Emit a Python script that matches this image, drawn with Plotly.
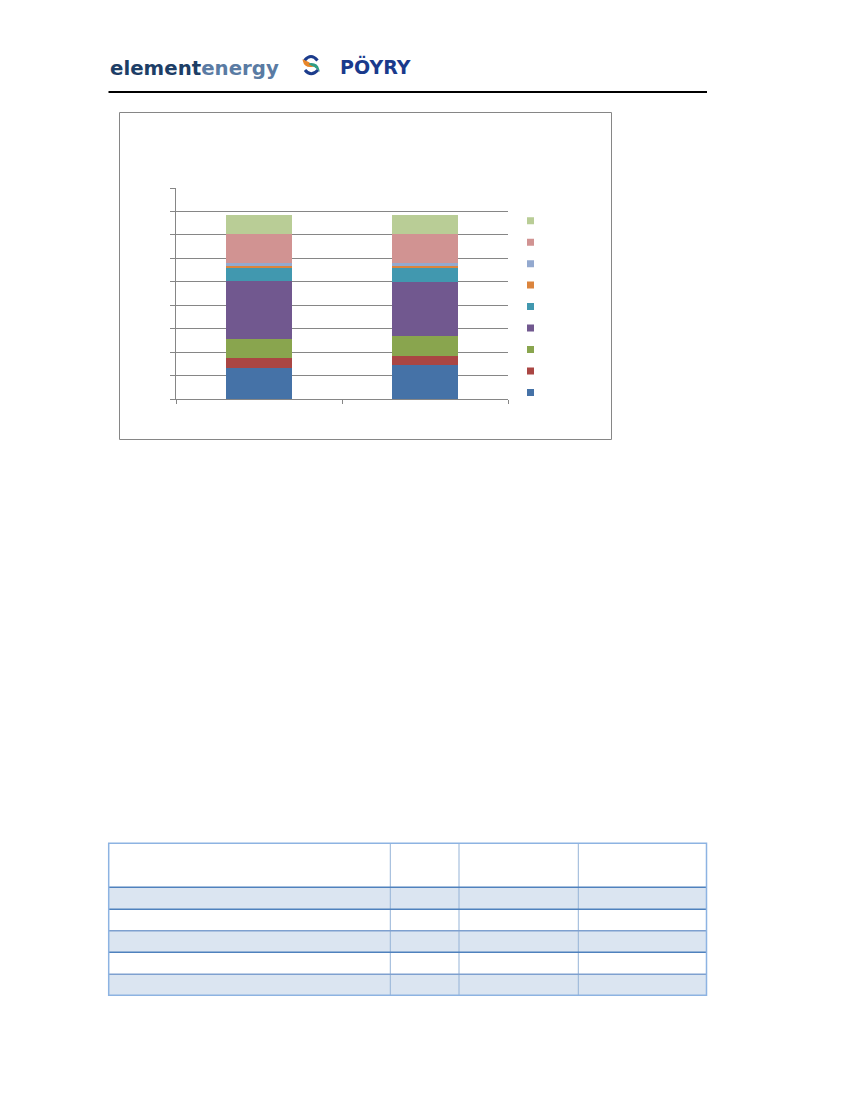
import plotly.graph_objects as go

# ---------------- data ----------------
categories = ["Case 1", "Case 2"]
series_names = ["", "", "", "", "", "", "", "", ""]
series_colors = ["#4572A7", "#AA4643", "#89A54E", "#71588F", "#4198AF",
                 "#DB843D", "#93A9CF", "#D19392", "#B9CD96"]
s1 = [1.31, 1.45]
s2 = [0.44, 0.39]
s3 = [0.81, 0.84]
s4 = [2.49, 2.30]
s5 = [0.56, 0.63]
s6 = [0.08, 0.07]
s7 = [0.12, 0.11]
s8 = [1.23, 1.23]
s9 = [0.79, 0.81]
series_values = [s1, s2, s3, s4, s5, s6, s7, s8, s9]
y_ticks = [0, 1, 2, 3, 4, 5, 6, 7, 8, 9]

# ---------------- layout geometry (page pixels; page body has 8px margin) ----
OFF = 8
W, H = 850 - OFF, 1100 - OFF
ML, MT = 176 - OFF, 188 - OFF
PW, PH = 332, 211
MR = W - ML - PW
MB = H - MT - PH


def px(x):
    return (x - OFF - ML) / PW


def py(y):
    return (MT + PH - (y - OFF)) / PH


fig = go.Figure()

for name, vals, col in zip(series_names, series_values, series_colors):
    fig.add_trace(go.Bar(x=categories, y=vals, name=name,
                         marker=dict(color=col, line=dict(width=0)),
                         showlegend=False))
    # legend swatch
    fig.add_trace(go.Scatter(x=[None], y=[None], mode="markers", name=name,
                             marker=dict(symbol="square", size=7, color=col),
                             showlegend=True))

shapes = []
# header rule
shapes.append(dict(type="line", xref="paper", yref="paper",
                   x0=px(108.5), x1=px(707), y0=py(92), y1=py(92),
                   line=dict(color="#000000", width=2)))
# chart frame
shapes.append(dict(type="rect", xref="paper", yref="paper",
                   x0=px(119.5), x1=px(611.5), y0=py(112.5), y1=py(439.5),
                   line=dict(color="#868686", width=1)))

# table
tl, tr = 108.7, 706.5
ttop, tbot = 843.3, 995.3
row_edges = [887.3, 909.3, 930.7, 952.3, 974.3]
shaded = [(887.3, 909.3), (930.7, 952.3), (974.3, 995.3)]
for a, b in shaded:
    shapes.append(dict(type="rect", xref="paper", yref="paper",
                       x0=px(tl), x1=px(tr), y0=py(a), y1=py(b),
                       fillcolor="#DBE5F1", line=dict(width=0), layer="below"))
for xv in [390.3, 459.0, 578.3]:
    shapes.append(dict(type="line", xref="paper", yref="paper",
                       x0=px(xv), x1=px(xv), y0=py(ttop), y1=py(tbot),
                       line=dict(color="#95B3D7", width=1)))
line_cols = ["#4F81BD", "#4F81BD", "#7EA0CF", "#4F81BD", "#7EA0CF"]
for yv, c in zip(row_edges, line_cols):
    shapes.append(dict(type="line", xref="paper", yref="paper",
                       x0=px(tl), x1=px(tr), y0=py(yv), y1=py(yv),
                       line=dict(color=c, width=1.5)))
shapes.append(dict(type="rect", xref="paper", yref="paper",
                   x0=px(tl), x1=px(tr), y0=py(ttop), y1=py(tbot),
                   line=dict(color="#8DB3E2", width=1.5)))


# Poyry swirl icon (paths in paper coords)
def path(pts_cmds):
    out = []
    for item in pts_cmds:
        if isinstance(item, str):
            out.append(item)
        else:
            out.append("%.5f,%.5f" % (px(item[0]), py(item[1])))
    return " ".join(out)


shapes.append(dict(type="path", xref="paper", yref="paper",
                   path=path(["M", (317.5, 60.5), "Q", (311, 52.5), (304.5, 60.5)]),
                   line=dict(color="#1C3C8C", width=3)))
shapes.append(dict(type="path", xref="paper", yref="paper",
                   path=path(["M", (303.5, 60.5), "Q", (305, 67.5), (313, 66),
                              "Q", (308, 62), (303.5, 60.5), "Z"]),
                   fillcolor="#E8862A", line=dict(color="#E8862A", width=1.5)))
shapes.append(dict(type="path", xref="paper", yref="paper",
                   path=path(["M", (318.5, 69.5), "Q", (317, 63), (309.5, 64),
                              "Q", (314.5, 65.5), (318.5, 69.5), "Z"]),
                   fillcolor="#2E9E86", line=dict(color="#2E9E86", width=1.5)))
shapes.append(dict(type="path", xref="paper", yref="paper",
                   path=path(["M", (305, 70), "Q", (311, 77.5), (318, 70)]),
                   line=dict(color="#1C3C8C", width=3)))

annotations = [
    dict(xref="paper", yref="paper", x=px(108), y=py(68.5), xanchor="left",
         yanchor="middle", showarrow=False,
         text="<span style='color:#1D3E66'>element</span>"
              "<span style='color:#5A7BA3'>energy</span>",
         font=dict(family="DejaVu Sans", size=19.8, weight="bold")),
    dict(xref="paper", yref="paper", x=px(375.5), y=py(66.5), xanchor="center",
         yanchor="middle", showarrow=False, text="PÖYRY",
         font=dict(family="DejaVu Sans", size=19, color="#1A3A8C",
                   weight="bold")),
]

fig.update_layout(
    width=W, height=H,
    margin=dict(l=ML, r=MR, t=MT, b=MB, autoexpand=False),
    paper_bgcolor="white", plot_bgcolor="white",
    barmode="stack", bargap=0.6,
    showlegend=True,
    legend=dict(x=px(510.5), y=py(205), xanchor="left", yanchor="top",
                traceorder="reversed", font=dict(size=14.2, color="#000000"),
                bgcolor="rgba(0,0,0,0)"),
    xaxis=dict(type="category", showline=True, linecolor="#868686",
               linewidth=1, ticks="outside", tickson="boundaries",
               ticklen=4, tickcolor="#868686", showticklabels=False,
               showgrid=False, fixedrange=True),
    yaxis=dict(range=[0, 9], tickvals=y_ticks, showline=True,
               linecolor="#868686", linewidth=1, ticks="outside",
               ticklen=5, tickcolor="#868686", showticklabels=False,
               showgrid=True, gridcolor="#868686", gridwidth=1,
               zeroline=False, fixedrange=True),
    shapes=shapes,
    annotations=annotations,
)

fig.write_html("out.html", config={"displayModeBar": False})
